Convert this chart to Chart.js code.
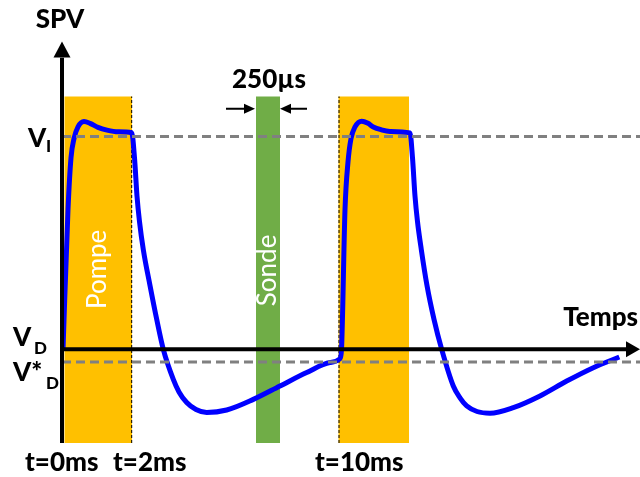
<!DOCTYPE html>
<html>
<head>
<meta charset="utf-8">
<script src="https://cdn.jsdelivr.net/npm/chart.js@4.4.1/dist/chart.umd.min.js"></script>
<style>
  html, body { margin: 0; padding: 0; background: #fff; }
  #wrap { width: 640px; height: 477px; position: relative; }
</style>
</head>
<body>
<div id="wrap"><canvas id="spv"></canvas></div>
<script>
// schematic time axis (arbitrary units) and SPV in units of V_I (V_D = 0)
const curveX = [0, 5, 8, 11, 15, 21, 27, 35, 44, 55, 68.7, 71.5, 74, 76.5, 80.3, 87, 93.7, 100.3, 110.3, 116, 123.7, 133, 143.7, 163.7, 190.3, 217, 243.7, 267, 277,
  278.5, 282, 285, 288, 292, 298.7, 305, 310.3, 318, 327, 347, 349.5, 352, 354.5, 358.3, 364, 371, 378.7, 390.3, 397, 403.7, 414, 427, 450.3, 477, 503.7, 530.3, 556.3];
const curveY = [0, 0.657, 0.9, 0.99, 1.045, 1.07, 1.062, 1.043, 1.03, 1.022, 1.018, 0.9, 0.72, 0.6, 0.469, 0.3, 0.141, 0, -0.141, -0.2, -0.25, -0.283, -0.297, -0.285, -0.235, -0.172, -0.109, -0.062, -0.044,
  0, 0.657, 0.88, 0.99, 1.045, 1.072, 1.062, 1.045, 1.032, 1.024, 1.017, 0.9, 0.72, 0.6, 0.469, 0.3, 0.141, 0, -0.172, -0.228, -0.266, -0.292, -0.3, -0.274, -0.219, -0.149, -0.086, -0.036];

const pumpWindows = [[1.3, 69], [275.3, 346]];
const probeWindow = [193, 217];
const windowTop = 1.188;
const pulseEdges = [68.7, 276];

const levelVI = 1;
const levelVDstar = -0.06;

const timeLabels = ["t=0ms", "t=2ms", "t=10ms"];
const timeLabelX = [-38, 50, 252];

const X_MIN = 0, X_MAX = 575;
const Y_MIN = -0.44, Y_MAX = 1.43;

const FONT = "Lato, 'Open Sans', sans-serif";

function rect(x0, x1, color) {
  return {
    data: [{ x: x0, y: windowTop }, { x: x1, y: windowTop }],
    borderWidth: 0, pointRadius: 0, backgroundColor: color,
    fill: "start", order: 5
  };
}

const datasets = [
  {
    label: "SPV",
    data: curveX.map((x, i) => ({ x, y: curveY[i] })),
    borderColor: "#0000ff", borderWidth: 5, pointRadius: 0,
    cubicInterpolationMode: "monotone", fill: false, order: 2, clip: false
  },
  {
    data: [{ x: -1, y: levelVI }, { x: 577, y: levelVI }],
    borderColor: "#808080", borderWidth: 3, borderDash: [9, 5], pointRadius: 0,
    fill: false, order: 1, clip: false
  },
  {
    data: [{ x: -1, y: levelVDstar }, { x: 577, y: levelVDstar }],
    borderColor: "#808080", borderWidth: 3, borderDash: [9, 5], pointRadius: 0,
    fill: false, order: 1, clip: false
  },
  ...pulseEdges.map(x => ({
    data: [{ x, y: Y_MIN }, { x, y: windowTop }],
    borderColor: "#000", borderWidth: 1, borderDash: [3, 2], pointRadius: 0,
    fill: false, order: 3
  })),
  ...pumpWindows.map(w => rect(w[0], w[1], "#ffc000")),
  rect(probeWindow[0], probeWindow[1], "#70ad47")
];

function arrowHead(ctx, tipX, tipY, dx, dy, len, half) {
  // dx,dy: unit direction the arrow points to
  const bx = tipX - dx * len, by = tipY - dy * len;
  ctx.beginPath();
  ctx.moveTo(tipX, tipY);
  ctx.lineTo(bx - dy * half, by + dx * half);
  ctx.lineTo(bx + dy * half, by - dx * half);
  ctx.closePath();
  ctx.fill();
}

const decor = {
  id: "decor",
  afterDatasetsDraw(chart) {
    const { ctx, scales: { x, y } } = chart;
    const px = v => x.getPixelForValue(v);
    const py = v => y.getPixelForValue(v);
    ctx.save();
    ctx.fillStyle = "#000";
    ctx.strokeStyle = "#000";

    // axes with arrows
    const ax = px(-1), ay = py(0);
    ctx.lineWidth = 4;
    ctx.beginPath();
    ctx.moveTo(ax, y.bottom);
    ctx.lineTo(ax, py(1.37));
    ctx.moveTo(ax - 2, ay);
    ctx.lineTo(px(564), ay);
    ctx.stroke();
    arrowHead(ctx, ax, py(1.446), 0, -1, 16, 8.5);
    arrowHead(ctx, px(577), ay, 1, 0, 14, 8);

    // 250µs width arrows
    const ar = py(1.131);
    ctx.lineWidth = 2;
    ctx.beginPath();
    ctx.moveTo(px(163), ar); ctx.lineTo(px(183), ar);
    ctx.moveTo(px(244), ar); ctx.lineTo(px(227), ar);
    ctx.stroke();
    arrowHead(ctx, px(192), ar, 1, 0, 11, 5);
    arrowHead(ctx, px(217), ar, -1, 0, 11, 5);

    // labels
    ctx.textBaseline = "alphabetic";
    ctx.font = "900 26px " + FONT;
    ctx.textAlign = "center";
    ctx.fillText("SPV", px(-3), py(1.512));
    ctx.fillText("250µs", px(206), py(1.23));
    ctx.textAlign = "right";
    ctx.fillText("Temps", px(575), py(0.108));
    ctx.textAlign = "left";
    timeLabels.forEach((t, i) => ctx.fillText(t, px(timeLabelX[i]), py(-0.573)));

    ctx.fillText("V", px(-35), py(0.953));
    ctx.fillText("V", px(-50), py(0.014));
    ctx.fillText("V*", px(-50), py(-0.15));
    ctx.font = "900 17px " + FONT;
    ctx.fillText("I", px(-17), py(0.925));
    ctx.fillText("D", px(-29), py(-0.023));
    ctx.fillText("D", px(-17), py(-0.188));

    // rotated window names
    ctx.fillStyle = "#fff";
    ctx.font = "26px " + FONT;
    ctx.textAlign = "center";
    ctx.textBaseline = "middle";
    [["Pompe", 35, 0.376], ["Sonde", 205, 0.371]].forEach(([t, vx, vy]) => {
      ctx.save();
      ctx.translate(px(vx), py(vy));
      ctx.rotate(-Math.PI / 2);
      ctx.fillText(t, 0, 0);
      ctx.restore();
    });
    ctx.restore();
  }
};

new Chart(document.getElementById("spv"), {
  type: "line",
  data: { datasets },
  options: {
    responsive: true,
    maintainAspectRatio: false,
    animation: false,
    layout: { padding: { left: 63, right: 2, top: 45, bottom: 34 } },
    plugins: { legend: { display: false }, tooltip: { enabled: false } },
    scales: {
      x: { type: "linear", min: X_MIN, max: X_MAX, display: false },
      y: { type: "linear", min: Y_MIN, max: Y_MAX, display: false }
    }
  },
  plugins: [decor]
});
</script>
</body>
</html>
